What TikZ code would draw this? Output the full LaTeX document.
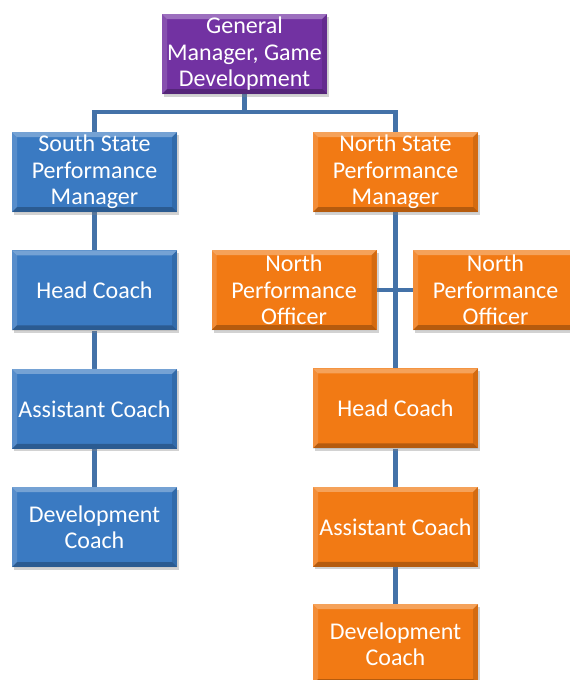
\documentclass[tikz,border=0pt]{standalone}
\usepackage{fontspec}
\setmainfont{Carlito}
\usetikzlibrary{positioning, calc, shadows, backgrounds}

\definecolor{gmpurple}{RGB}{114,50,162}
\definecolor{southblue}{RGB}{58,122,194}
\definecolor{northorange}{RGB}{242,122,20}
\definecolor{linkblue}{RGB}{68,114,168}

\tikzset{
  orgbox/.style={rectangle, minimum width=165pt, minimum height=80pt, inner sep=0pt,
    align=center, text=white, font=\fontsize{24}{26.5}\selectfont,
    drop shadow={shadow xshift=2pt, shadow yshift=-2.5pt, opacity=0.35},
    path picture={
      \coordinate (bnw) at (path picture bounding box.north west);
      \coordinate (bse) at (path picture bounding box.south east);
      \coordinate (bne) at (bnw -| bse);
      \coordinate (bsw) at (bse -| bnw);
      % bevel edges
      \fill[white, opacity=0.3] (bnw) -- (bne) -- ($(bne)+(-5pt,-5pt)$) -- ($(bnw)+(5pt,-5pt)$) -- cycle;
      \fill[white, opacity=0.15] (bnw) -- (bsw) -- ($(bsw)+(5pt,5pt)$) -- ($(bnw)+(5pt,-5pt)$) -- cycle;
      \fill[black, opacity=0.25] (bsw) -- (bse) -- ($(bse)+(-5pt,5pt)$) -- ($(bsw)+(5pt,5pt)$) -- cycle;
      \fill[black, opacity=0.12] (bne) -- (bse) -- ($(bse)+(-5pt,5pt)$) -- ($(bne)+(-5pt,-5pt)$) -- cycle;
    }},
  purplebox/.style={orgbox, fill=gmpurple},
  bluebox/.style={orgbox, fill=southblue},
  orangebox/.style={orgbox, fill=northorange},
  link/.style={draw=linkblue, line width=4.5pt}
}

\begin{document}
\begin{tikzpicture}[x=1pt, y=-1pt, node distance=38pt]
\clip (0,0) rectangle (570,680);

% top
\node[purplebox] (gm) at (244.5,54) {General\\Manager, Game\\Development};

% south state
\node[bluebox] (sspm) at (94.5,172) {South State\\Performance\\Manager};
\node[bluebox, below=of sspm] (shc) {Head Coach};
\node[bluebox, below=of shc] (sac) {Assistant Coach};
\node[bluebox, below=of sac] (sdc) {Development\\Coach};

% north state
\node[orangebox] (nspm) at (395.5,172) {North State\\Performance\\Manager};
\node[orangebox] (npo1) at (294,290) {North\\Performance\\Officer};
\node[orangebox] (npo2) at (495.5,290) {North\\Performance\\Officer};
\node[orangebox, below=156pt of nspm] (nhc) {Head Coach};
\node[orangebox, below=of nhc] (nac) {Assistant Coach};
\node[orangebox, below=37pt of nac] (ndc) {Development\\Coach};

% connectors
\begin{scope}[on background layer]
\fill[white] (0,0) rectangle (570,680);
\coordinate (bar) at ($(gm.south)+(0,18)$);
\draw[link] (gm.south) -- (bar);
\draw[link] (bar) -| (sspm.north);
\draw[link] (bar) -| (nspm.north);
\draw[link] (sspm) -- (shc);
\draw[link] (shc) -- (sac);
\draw[link] (sac) -- (sdc);
\draw[link] (nspm) -- (nhc);
\draw[link] (npo1) -- (npo2);
\draw[link] (nhc) -- (nac);
\draw[link] (nac) -- (ndc);
\end{scope}
\end{tikzpicture}
\end{document}
